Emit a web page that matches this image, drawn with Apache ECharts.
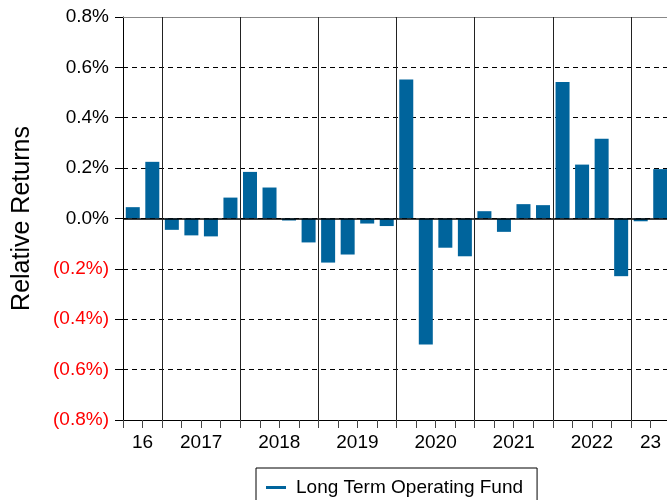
<!DOCTYPE html>
<html>
<head>
<meta charset="utf-8">
<script src="https://cdn.jsdelivr.net/npm/echarts@6/dist/echarts.min.js"></script>
<style>
  html, body { margin: 0; padding: 0; background: #fff; }
  #chart { width: 667px; height: 500px; }
</style>
</head>
<body>
<div id="chart"></div>
<script>
// quarters, Q3 2016 .. Q2 2023
var quarters = ['2016Q3', '2016Q4',
  '2017Q1', '2017Q2', '2017Q3', '2017Q4',
  '2018Q1', '2018Q2', '2018Q3', '2018Q4',
  '2019Q1', '2019Q2', '2019Q3', '2019Q4',
  '2020Q1', '2020Q2', '2020Q3', '2020Q4',
  '2021Q1', '2021Q2', '2021Q3', '2021Q4',
  '2022Q1', '2022Q2', '2022Q3', '2022Q4',
  '2023Q1', '2023Q2']
// relative returns in percent
var relReturns = [0.045, 0.225,
  -0.045, -0.067, -0.071, 0.083,
  0.185, 0.123, -0.008, -0.095,
  -0.175, -0.143, -0.02, -0.03,
  0.552, -0.5, -0.116, -0.15,
  0.029, -0.053, 0.057, 0.053,
  0.542, 0.214, 0.317, -0.229,
  -0.011, 0.196]
// year labels, placed at quarter boundary positions
var yearLabelPos = [1, 4, 8, 12, 16, 20, 24, 27]
var yearLabels = ['16', '2017', '2018', '2019', '2020', '2021', '2022', '23']
// quarter boundaries where a new year starts
var yearStarts = [2, 6, 10, 14, 18, 22, 26]

var chart = echarts.init(document.getElementById('chart'))

var font = 'Liberation Sans, Arial, sans-serif'

var option = {
  animation: false,
  grid: {
    left: 123,
    right: -3,
    top: 17,
    bottom: 80,
    containLabel: false,
    outerBoundsMode: 'none'
  },
  legend: {
    left: 256,
    top: 468,
    padding: [10, 14, 20, 10],
    borderColor: '#000',
    borderWidth: 1,
    borderRadius: 0,
    icon: 'rect',
    itemWidth: 20,
    itemHeight: 3,
    textStyle: { fontFamily: font, fontSize: 19, color: '#000', padding: [0, 0, 0, 5] },
    data: ['Long Term Operating Fund']
  },
  xAxis: [{
    type: 'category',
    data: quarters,
    boundaryGap: true,
    position: 'bottom',
    axisLine: { onZero: false, lineStyle: { color: '#000', width: 1 } },
    axisTick: { show: true, interval: 0, length: 8, lineStyle: { color: '#444' } },
    axisLabel: { show: false },
    splitLine: { show: false }
  }, {
    type: 'value',
    min: 0,
    max: quarters.length,
    interval: 1,
    position: 'bottom',
    axisLine: { show: false },
    axisTick: { show: false },
    splitLine: { show: false },
    axisLabel: {
      show: true,
      margin: 13,
      fontFamily: font,
      fontSize: 19,
      color: '#000',
      showMinLabel: true,
      showMaxLabel: true,
      formatter: function (v) {
        var k = yearLabelPos.indexOf(Math.round(v))
        return k >= 0 ? yearLabels[k] : ''
      }
    }
  }, {
    // top frame line only
    type: 'value',
    min: 0,
    max: quarters.length,
    position: 'top',
    axisLine: { show: true, onZero: false, lineStyle: { color: '#888', width: 1 } },
    axisTick: { show: false },
    axisLabel: { show: false },
    splitLine: { show: false }
  }],
  yAxis: {
    type: 'value',
    min: -0.8,
    max: 0.8,
    interval: 0.2,
    name: 'Relative Returns',
    nameLocation: 'middle',
    nameGap: 88,
    nameTextStyle: { fontFamily: font, fontSize: 25, color: '#000' },
    axisLine: { show: true, lineStyle: { color: '#000', width: 1 } },
    axisTick: { show: true, length: 8, lineStyle: { color: '#000' } },
    axisLabel: {
      fontFamily: font,
      fontSize: 19,
      margin: 14,
      color: function (v) {
        return Number(v) < -1e-9 ? '#ff0000' : '#000'
      },
      formatter: function (v) {
        if (v < -1e-9) return '(' + (-v).toFixed(1) + '%)'
        return Math.abs(v).toFixed(1) + '%'
      }
    },
    splitLine: {
      show: true,
      lineStyle: { color: '#000', width: 1, type: [5, 4] }
    }
  },
  series: [{
    name: 'Long Term Operating Fund',
    type: 'bar',
    xAxisIndex: 0,
    barWidth: 14,
    itemStyle: { color: '#00649C' },
    data: relReturns,
    markLine: {
      silent: true,
      symbol: 'none',
      label: { show: false },
      lineStyle: { color: '#000', width: 1.5, type: 'solid' },
      data: [{ yAxis: 0 }]
    }
  }, {
    // year separators on the boundary value axis
    name: 'separators',
    type: 'line',
    xAxisIndex: 1,
    data: [],
    markLine: {
      silent: true,
      symbol: 'none',
      label: { show: false },
      lineStyle: { color: '#222', width: 1, type: 'solid' },
      data: yearStarts.map(function (p) { return { xAxis: p } })
    }
  }]
}

chart.setOption(option)
</script>
</body>
</html>
